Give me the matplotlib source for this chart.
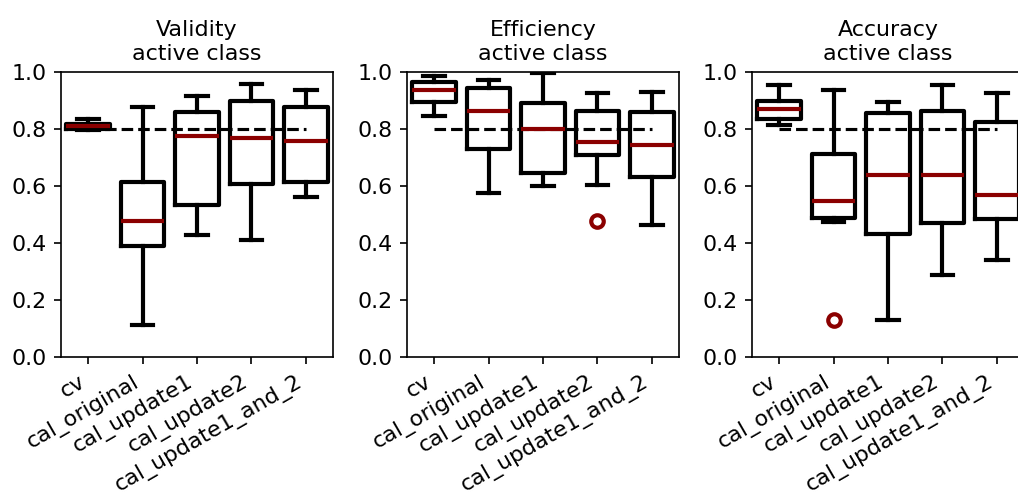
import matplotlib
matplotlib.use("Agg")
import matplotlib.pyplot as plt

categories = ["cv", "cal_original", "cal_update1", "cal_update2", "cal_update1_and_2"]
titles = ["Validity\nactive class", "Efficiency\nactive class", "Accuracy\nactive class"]
threshold = 0.8

# Box summaries per metric: lower whisker, Q1, median, Q3, upper whisker, outliers
validity_whislo = [0.797, 0.114, 0.428, 0.410, 0.563]
validity_q1 = [0.800, 0.389, 0.535, 0.608, 0.615]
validity_med = [0.809, 0.476, 0.777, 0.767, 0.758]
validity_q3 = [0.818, 0.615, 0.860, 0.897, 0.876]
validity_whishi = [0.835, 0.876, 0.917, 0.958, 0.936]
validity_fliers = [[], [], [], [], []]

efficiency_whislo = [0.846, 0.577, 0.601, 0.605, 0.463]
efficiency_q1 = [0.894, 0.729, 0.644, 0.708, 0.631]
efficiency_med = [0.938, 0.864, 0.801, 0.753, 0.744]
efficiency_q3 = [0.966, 0.943, 0.891, 0.862, 0.858]
efficiency_whishi = [0.987, 0.973, 0.995, 0.928, 0.930]
efficiency_fliers = [[], [], [], [0.478], []]

accuracy_whislo = [0.815, 0.472, 0.131, 0.288, 0.340]
accuracy_q1 = [0.836, 0.489, 0.433, 0.469, 0.483]
accuracy_med = [0.870, 0.549, 0.637, 0.637, 0.569]
accuracy_q3 = [0.900, 0.712, 0.856, 0.864, 0.823]
accuracy_whishi = [0.953, 0.936, 0.893, 0.953, 0.926]
accuracy_fliers = [[], [0.131], [], [], []]

metrics = [
    (validity_whislo, validity_q1, validity_med, validity_q3, validity_whishi, validity_fliers),
    (efficiency_whislo, efficiency_q1, efficiency_med, efficiency_q3, efficiency_whishi, efficiency_fliers),
    (accuracy_whislo, accuracy_q1, accuracy_med, accuracy_q3, accuracy_whishi, accuracy_fliers),
]

W, H, DPI = 1018, 494, 150
FS = 10.6
fig = plt.figure(figsize=(W / DPI, H / DPI), dpi=DPI)

lefts = [61, 407, 752]
ax_w, ax_bottom, ax_top = 272, 357, 72

line_kw = dict(color="black", linewidth=2)
for left, title, (lo, q1, med, q3, hi, fl) in zip(lefts, titles, metrics):
    ax = fig.add_axes([left / W, 1 - ax_bottom / H, ax_w / W, (ax_bottom - ax_top) / H])
    stats = [
        dict(label=c, whislo=a, q1=b, med=m, q3=d, whishi=e, fliers=f)
        for c, a, b, m, d, e, f in zip(categories, lo, q1, med, q3, hi, fl)
    ]
    ax.hlines(threshold, 1, 5, colors="black", linestyles="dashed", linewidth=1.5, zorder=1)
    ax.bxp(
        stats,
        widths=0.8,
        boxprops=line_kw,
        whiskerprops=line_kw,
        capprops=line_kw,
        medianprops=dict(color="darkred", linewidth=2),
        flierprops=dict(marker="o", markerfacecolor="none", markeredgecolor="darkred",
                        markeredgewidth=2, markersize=6),
    )
    ax.set_ylim(0, 1)
    ax.set_xlim(0.5, 5.5)
    ax.set_title(title, fontsize=FS)
    ax.set_xticks(range(1, 6))
    ax.set_xticklabels(categories, rotation=30, ha="right", fontsize=FS)
    ax.tick_params(labelsize=FS)

fig.savefig("out.png", dpi=DPI)
